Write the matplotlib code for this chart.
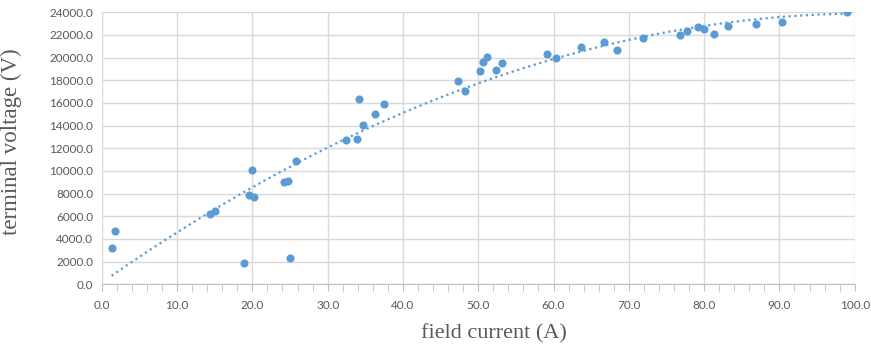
import matplotlib.pyplot as plt
import numpy as np
from matplotlib.ticker import MultipleLocator, FormatStrFormatter

field_current = [1.3, 1.8, 14.4, 15.1, 18.9, 19.9, 19.5, 20.2, 24.2, 24.8,
                 25.8, 25.0, 32.4, 33.9, 34.2, 34.7, 36.3, 37.5, 47.3, 48.3,
                 50.2, 50.6, 51.1, 52.3, 53.2, 59.1, 60.3, 63.6, 66.7, 68.4,
                 71.9, 76.8, 77.7, 79.2, 80.0, 81.3, 83.2, 86.9, 90.4, 99.0]
terminal_voltage = [3200, 4700, 6200, 6450, 1850, 10100, 7900, 7700, 9000, 9120,
                    10850, 2320, 12770, 12830, 16360, 14060, 15060, 15910, 17940, 17030,
                    18800, 19650, 20060, 18920, 19530, 20360, 19970, 20920, 21360, 20630,
                    21690, 22000, 22330, 22740, 22500, 22120, 22800, 23010, 23130, 24030]

blue = "#5b9bd5"
grid = "#d9d9d9"
tick_gray = "#595959"

fig = plt.figure(figsize=(8.71, 3.49), dpi=100)
ax = fig.add_axes([0.1168, 0.1854, 0.8645, 0.7794])

ax.scatter(field_current, terminal_voltage, s=34, color=blue, zorder=3, linewidths=0)

# Excel-style polynomial (order 2) trendline fitted to the points
coef = np.polyfit(field_current, terminal_voltage, 2)
xs = np.linspace(min(field_current), max(field_current), 200)
ax.plot(xs, np.polyval(coef, xs), color=blue, linestyle=(0, (1, 1.6)), linewidth=1.6, zorder=2)

ax.set_xlim(0, 100)
ax.set_ylim(0, 24000)
ax.xaxis.set_major_locator(MultipleLocator(10))
ax.xaxis.set_minor_locator(MultipleLocator(2))
ax.yaxis.set_major_locator(MultipleLocator(2000))
ax.xaxis.set_major_formatter(FormatStrFormatter("%.1f"))
ax.yaxis.set_major_formatter(FormatStrFormatter("%.1f"))

ax.grid(True, color=grid, linewidth=1)
ax.set_axisbelow(True)
for side in ["top", "right", "left"]:
    ax.spines[side].set_visible(False)
ax.spines["bottom"].set_color("#bfbfbf")
ax.tick_params(axis="x", which="both", direction="out", length=5, color="#bfbfbf",
               labelsize=8.5, labelcolor=tick_gray, pad=6)
ax.tick_params(axis="y", which="both", length=0, labelsize=8.5, labelcolor=tick_gray, pad=6)
for lbl in ax.get_xticklabels() + ax.get_yticklabels():
    lbl.set_family("Lato")

ax.set_xlabel("field current (A)", family="Liberation Serif", fontsize=16, color="#595959", labelpad=7)
ax.set_ylabel("terminal voltage (V)", family="Liberation Serif", fontsize=16.5, color="#595959", labelpad=10)
ax.xaxis.set_label_coords(0.521, -0.145)
ax.yaxis.set_label_coords(-0.106, 0.523)

fig.savefig("out.png", dpi=100)
